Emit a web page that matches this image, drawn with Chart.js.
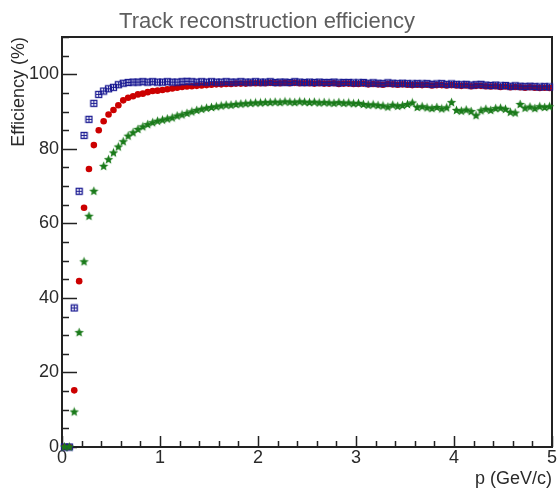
<!DOCTYPE html>
<html>
<head>
<meta charset="utf-8">
<title>Track reconstruction efficiency</title>
<script src="https://cdn.jsdelivr.net/npm/chart.js@4.4.1/dist/chart.umd.min.js"></script>
<style>
  html, body { margin: 0; padding: 0; background: #fff; }
  #wrap { width: 559px; height: 490px; }
</style>
</head>
<body>
<div id="wrap"><canvas id="effChart" width="559" height="490"></canvas></div>
<script>
// momentum bin centres (GeV/c), 100 bins of 0.05
const pBins = Array.from({ length: 100 }, (_, i) => +(0.025 + 0.05 * i).toFixed(3));

// efficiency (%) per bin, three track selections
const effBlue = [
  0, 0, 37.3, 68.6, 83.6, 87.9, 92.2, 94.6, 95.5, 96.1,
  96.5, 97.2, 97.6, 97.8, 97.9, 97.9, 98.0, 97.9, 98.0, 97.9,
  97.9, 98.0, 97.9, 97.9, 98.0, 98.1, 98.0, 97.9, 98.0, 97.9,
  98.0, 97.9, 97.9, 98.0, 97.9, 97.9, 98.0, 97.9, 97.9, 98.0,
  97.9, 97.9, 98.0, 97.8, 97.9, 97.9, 97.8, 98.0, 97.9, 97.8,
  97.9, 97.8, 97.9, 97.8, 97.8, 97.9, 97.7, 97.8, 97.8, 97.7,
  97.7, 97.8, 97.6, 97.7, 97.6, 97.5, 97.7, 97.6, 97.5, 97.6,
  97.5, 97.4, 97.5, 97.4, 97.5, 97.3, 97.4, 97.5, 97.3, 97.4,
  97.3, 97.2, 97.3, 97.1, 97.2, 97.3, 97.1, 97.0, 97.1, 96.9,
  97.0, 96.8, 96.9, 96.8, 96.7, 96.8, 96.7, 96.6, 96.7, 96.6
];
const effRed = [
  0, 0, 15.2, 44.5, 64.2, 74.6, 81.0, 85.0, 87.4, 89.2,
  90.4, 91.7, 93.0, 93.7, 94.1, 94.6, 94.8, 95.2, 95.5, 95.6,
  95.8, 96.0, 96.2, 96.4, 96.6, 96.7, 96.8, 96.9, 97.0, 97.1,
  97.2, 97.3, 97.3, 97.4, 97.4, 97.5, 97.5, 97.5, 97.6, 97.6,
  97.6, 97.6, 97.7, 97.6, 97.6, 97.7, 97.6, 97.7, 97.6, 97.6,
  97.6, 97.5, 97.6, 97.5, 97.5, 97.6, 97.4, 97.5, 97.5, 97.4,
  97.4, 97.5, 97.3, 97.4, 97.3, 97.2, 97.4, 97.3, 97.2, 97.3,
  97.2, 97.1, 97.2, 97.1, 97.2, 97.0, 97.1, 97.1, 97.0, 97.1,
  97.0, 96.9, 97.0, 96.8, 96.9, 96.9, 96.8, 96.7, 96.8, 96.6,
  96.7, 96.5, 96.6, 96.5, 96.4, 96.5, 96.4, 96.3, 96.4, 96.3
];
const effGreen = [
  0, 0, 9.4, 30.7, 49.7, 61.9, 68.6, null, 75.3, 77.1,
  78.9, 80.5, 81.9, 83.4, 84.3, 85.2, 85.9, 86.5, 87.0, 87.4,
  87.7, 88.0, 88.3, 88.8, 89.1, 89.5, 89.9, 90.3, 90.6, 90.9,
  91.1, 91.3, 91.5, 91.7, 91.7, 91.9, 92.0, 92.1, 92.2, 92.3,
  92.3, 92.4, 92.4, 92.5, 92.4, 92.6, 92.5, 92.4, 92.6, 92.5,
  92.4, 92.5, 92.3, 92.4, 92.3, 92.2, 92.4, 92.2, 92.3, 92.1,
  92.2, 91.9, 91.7, 91.8, 91.6, 91.5, 91.2, 91.7, 91.4, 91.6,
  91.9, 92.3, 91.1, 91.3, 91.0, 90.8, 91.1, 90.7, 91.0, 92.4,
  90.3, 90.1, 90.4, 90.0, 88.9, 90.2, 90.6, 90.3, 90.8, 90.9,
  90.6, 89.8, 89.6, 91.9, 90.9, 91.2, 90.8, 91.3, 91.1, 91.3
];

// axis labels
const xTickLabels = [0, 1, 2, 3, 4, 5];
const yTickLabels = [0, 20, 40, 60, 80, 100];
const plotTitle = 'Track reconstruction efficiency';

const BLUE = '#1a1a92';
const RED = '#cc0000';
const GREEN = '#1a7a1a';
const FONT = "'Liberation Sans', Arial, Helvetica, sans-serif";
const TEXT = '#2a2a2a';

function toPoints(values) {
  return pBins.map((p, i) => ({ x: p, y: values[i] }));
}

// small offscreen canvases used as point styles
function makeMarker(size, draw) {
  const c = document.createElement('canvas');
  c.width = size;
  c.height = size;
  draw(c.getContext('2d'), size);
  return c;
}

const boxMarker = makeMarker(9, (g) => {
  g.strokeStyle = BLUE;
  g.lineWidth = 1.3;
  g.strokeRect(1.5, 1.5, 6, 6);
  g.lineWidth = 1;
  g.beginPath();
  g.moveTo(4.5, 1.5); g.lineTo(4.5, 7.5);
  g.moveTo(1.5, 4.5); g.lineTo(7.5, 4.5);
  g.stroke();
});

const starMarker = makeMarker(11, (g, s) => {
  g.fillStyle = GREEN;
  g.beginPath();
  for (let k = 0; k < 10; k++) {
    const r = k % 2 ? 2.2 : 4.9;
    const a = -Math.PI / 2 + k * Math.PI / 5;
    const px = s / 2 + r * Math.cos(a);
    const py = s / 2 + r * Math.sin(a);
    if (k === 0) g.moveTo(px, py); else g.lineTo(px, py);
  }
  g.closePath();
  g.fill();
});

// frame + inward tick marks, drawn under the markers
const framePlugin = {
  id: 'frameTicks',
  beforeDatasetsDraw(chart) {
    const { ctx, chartArea: a, scales: { x, y } } = chart;
    ctx.save();
    ctx.strokeStyle = '#222';
    ctx.lineWidth = 1.5;
    ctx.beginPath();
    for (let v = 0; v <= 110.001; v += 5) {
      const py = Math.round(y.getPixelForValue(v)) + 0.5;
      const len = v % 20 === 0 ? 15 : 7;
      ctx.moveTo(a.left, py);
      ctx.lineTo(a.left + len, py);
    }
    for (let k = 0; k <= 25; k++) {
      const px = Math.round(x.getPixelForValue(k * 0.2)) + 0.5;
      const len = k % 5 === 0 ? 11 : 6;
      ctx.moveTo(px, a.bottom);
      ctx.lineTo(px, a.bottom - len);
    }
    ctx.stroke();
    ctx.lineWidth = 2;
    ctx.strokeRect(a.left, a.top, a.right - a.left, a.bottom - a.top);
    ctx.restore();
  },
  // pad title, centred on the pad rather than the frame
  afterDraw(chart) {
    const { ctx } = chart;
    ctx.save();
    ctx.font = `22px ${FONT}`;
    ctx.fillStyle = '#5e5e5e';
    ctx.textAlign = 'center';
    ctx.textBaseline = 'alphabetic';
    ctx.fillText(plotTitle, 267, 28);
    ctx.restore();
  }
};

const ctx = document.getElementById('effChart').getContext('2d');

const chart = new Chart(ctx, {
  type: 'scatter',
  data: {
    datasets: [
      {
        label: 'green',
        data: toPoints(effGreen),
        pointStyle: starMarker,
        pointRadius: 5,
        clip: false
      },
      {
        label: 'blue',
        data: toPoints(effBlue),
        pointStyle: boxMarker,
        pointRadius: 5,
        clip: false
      },
      {
        label: 'red',
        data: toPoints(effRed),
        pointStyle: 'circle',
        pointRadius: 3.3,
        pointBorderWidth: 0,
        backgroundColor: RED,
        borderColor: RED,
        clip: false
      }
    ]
  },
  options: {
    responsive: false,
    animation: false,
    events: [],
    layout: { padding: { left: 0, right: 5, top: 37, bottom: 0 } },
    plugins: {
      legend: { display: false },
      tooltip: { enabled: false },
      title: { display: false }
    },
    scales: {
      x: {
        type: 'linear',
        min: 0,
        max: 5,
        grid: { display: false, drawTicks: false },
        border: { display: false },
        afterBuildTicks: (s) => { s.ticks = xTickLabels.map(v => ({ value: v })); },
        afterFit: (s) => { s.height = 43; },
        ticks: {
          padding: 2,
          color: TEXT,
          maxRotation: 0,
          autoSkip: false,
          font: { family: FONT, size: 18, lineHeight: 1 }
        },
        title: {
          display: true,
          text: 'p (GeV/c)',
          align: 'end',
          color: TEXT,
          font: { family: FONT, size: 18, lineHeight: 1 },
          padding: { top: 0, bottom: 2 }
        }
      },
      y: {
        type: 'linear',
        min: 0,
        max: 110,
        grid: { display: false, drawTicks: false },
        border: { display: false },
        afterBuildTicks: (s) => { s.ticks = yTickLabels.map(v => ({ value: v })); },
        afterFit: (s) => { s.width = 62; },
        ticks: {
          padding: 3,
          color: TEXT,
          autoSkip: false,
          font: { family: FONT, size: 18, lineHeight: 1 }
        },
        title: {
          display: true,
          text: 'Efficiency (%)',
          align: 'end',
          color: TEXT,
          font: { family: FONT, size: 18, lineHeight: 1 },
          padding: { top: 10, bottom: 0 }
        }
      }
    }
  },
  plugins: [framePlugin]
});
</script>
</body>
</html>
